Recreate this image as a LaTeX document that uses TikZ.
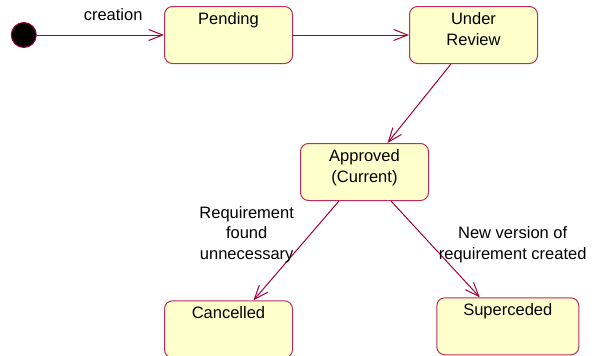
\documentclass[tikz,border=0pt]{standalone}
\usepackage{fontspec}
\setmainfont{Liberation Sans}
\usepackage{tikz}
\usetikzlibrary{arrows.meta, positioning}
\definecolor{wine}{RGB}{160,0,64}
\definecolor{rosewine}{RGB}{185,45,95}
\definecolor{cream}{RGB}{255,255,204}
\tikzstyle{state} = [rectangle, rounded corners=8pt, draw=rosewine, fill=cream, line width=1pt, minimum width=128pt, minimum height=57pt]
\tikzstyle{caption} = [align=center, inner sep=0pt, font=\fontsize{16.5}{20.5}\selectfont]
\tikzstyle{inside} = [caption, anchor=north, yshift=-6.5pt]
\tikzstyle{trans} = [draw=wine, line width=1pt, -{Straight Barb[length=14pt, width=11pt]}]

\begin{document}
\begin{tikzpicture}[x=1pt, y=-1pt]
    \useasboundingbox (0,0) rectangle (592,356);

    \node (start) [circle, fill=black, draw=wine, line width=1pt, minimum size=25pt, inner sep=0pt] at (23.8,35) {};
    \node (pending) [state, label={[inside]north:Pending}] at (228.5,35) {};
    \node (review) [state, right=116pt of pending, label={[inside]north:Under\\Review}] {};
    \node (approved) [state, label={[inside]north:Approved\\(Current)}] at (364.5,172) {};
    \node (cancelled) [state, label={[inside]north:Cancelled}] at (228.5,329.3) {};
    \node (superceded) [state, minimum width=142pt, label={[inside]north:Superceded}] at (507.8,326.3) {};

    \draw[trans] (start) -- node[caption, pos=0.6, anchor=south, yshift=14pt] (creation) {creation} (pending);
    \draw[trans] (pending) -- (review);
    \draw[trans] ([xshift=-22.5pt]review.south) -- ([xshift=23pt]approved.north);
    \draw[trans] ([xshift=-25.5pt]approved.south) -- ([xshift=25pt]cancelled.north);
    \draw[trans] ([xshift=26.5pt]approved.south) -- ([xshift=-28pt]superceded.north);

    \node (unneeded) [caption] at (246.7,234.7) {Requirement\\found\\unnecessary};
    \node (newversion) [caption] at (512.7,244.6) {New version of\\requirement created};
\end{tikzpicture}
\end{document}
